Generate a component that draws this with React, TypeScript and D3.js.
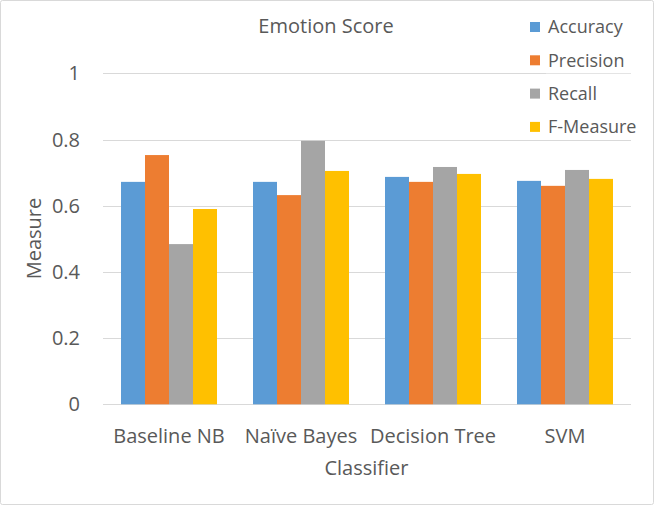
import React from "react";
import * as d3 from "d3";

const categories = ["Baseline NB", "Naïve Bayes", "Decision Tree", "SVM"];
const seriesNames = ["Accuracy", "Precision", "Recall", "F-Measure"];
const accuracy = [0.672, 0.672, 0.687, 0.675];
const precision = [0.753, 0.632, 0.672, 0.66];
const recall = [0.484, 0.796, 0.717, 0.708];
const fMeasure = [0.59, 0.705, 0.696, 0.681];
const yTicks = [0, 0.2, 0.4, 0.6, 0.8, 1];
const colors = ["#5B9BD5", "#ED7D31", "#A5A5A5", "#FFC000"];

const W = 654, H = 505;
const left = 103, right = 631, top = 73.3, bottom = 404.3;
const FONT = "'Open Sans', 'Noto Sans', sans-serif";
const TXT = "#595959";

export default function App() {
  const series = [accuracy, precision, recall, fMeasure];
  const x0 = d3.scaleBand<string>().domain(categories).range([left, right]).paddingInner(36 / 132).paddingOuter(18 / 132);
  const x1 = d3.scaleBand<string>().domain(seriesNames).range([0, x0.bandwidth()]);
  const y = d3.scaleLinear().domain([0, 1]).range([bottom, top]);

  return (
    <svg width={W} height={H} style={{ position: "absolute", left: 0, top: 0 }}>
      <rect x={0.5} y={0.5} width={W - 1} height={H - 1} fill="#fff" stroke="#d9d9d9" rx={2} />
      {yTicks.map((t) => (
        <g key={t}>
          <line x1={left} x2={right} y1={Math.round(y(t)) + 0.5} y2={Math.round(y(t)) + 0.5} stroke="#d9d9d9" strokeWidth={1} />
          <text x={80} y={y(t)} dy="0.35em" textAnchor="end" fontSize={20} fill={TXT} fontFamily={FONT}>
            {t === 0 || t === 1 ? String(t) : t.toFixed(1)}
          </text>
        </g>
      ))}
      {categories.map((c, i) => (
        <g key={c}>
          {series.map((s, j) => (
            <rect
              key={j}
              x={(x0(c) as number) + (x1(seriesNames[j]) as number)}
              y={y(s[i])}
              width={x1.bandwidth()}
              height={bottom - y(s[i])}
              fill={colors[j]}
            />
          ))}
          <text x={(x0(c) as number) + x0.bandwidth() / 2} y={435.5} dy="0.35em" textAnchor="middle" fontSize={20} fill={TXT} fontFamily={FONT}>
            {c}
          </text>
        </g>
      ))}
      <text x={326} y={25.5} dy="0.35em" textAnchor="middle" fontSize={20} fill={TXT} fontFamily={FONT}>Emotion Score</text>
      <text x={366.5} y={467.5} dy="0.35em" textAnchor="middle" fontSize={20} fill={TXT} fontFamily={FONT}>Classifier</text>
      <text transform={`translate(33.5,238.5) rotate(-90)`} dy="0.35em" textAnchor="middle" fontSize={20} fill={TXT} fontFamily={FONT}>Measure</text>
      {seriesNames.map((n, j) => (
        <g key={n} transform={`translate(530,${27 + j * 33.3})`}>
          <rect x={0} y={-5} width={10} height={10} fill={colors[j]} />
          <rect x={16} y={-13} width={104} height={26} fill="#fff" />
          <text x={18} y={0} dy="0.35em" fontSize={18} fill={TXT} fontFamily={FONT}>{n}</text>
        </g>
      ))}
    </svg>
  );
}
